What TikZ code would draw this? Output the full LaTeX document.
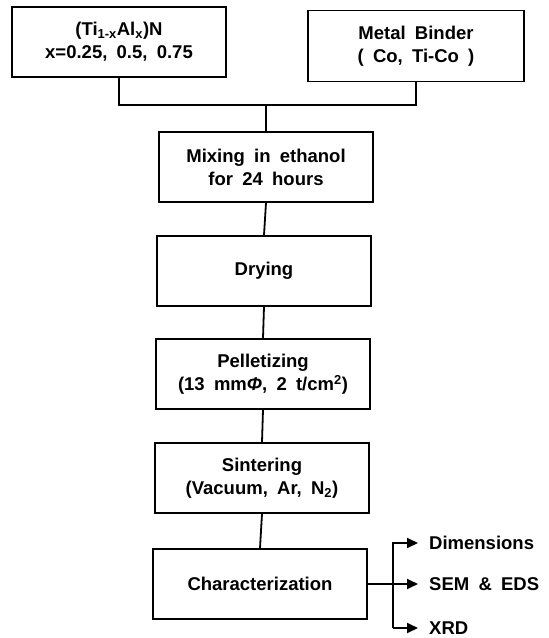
\documentclass[tikz,border=0pt]{standalone}
\usepackage{fontspec}
\setmainfont{Liberation Sans}[WordSpace=1.8]
\usetikzlibrary{arrows.meta}
\newcommand\fs{\fontsize{18.5}{23}\selectfont\bfseries}
\begin{document}
\begin{tikzpicture}[x=1pt,y=-1pt,
  box/.style={draw,line width=1.8pt,minimum width=214pt,minimum height=70pt,align=center,inner sep=0pt,font=\fs},
  conn/.style={line width=1.8pt},
  lab/.style={anchor=west,inner sep=0pt,font=\fs},
  arr/.style={conn,-{Triangle[length=11pt,width=10pt]}}]
\useasboundingbox (0,0) rectangle (549,638);
\node[box] (t1) at (119,42) {(Ti\textsubscript{1-x}Al\textsubscript{x})N\\x=0.25, 0.5, 0.75};
\node[box,minimum width=216pt,minimum height=71pt] (t2) at (416,46) {Metal Binder\\( Co, Ti-Co )};
\node[box] (mix) at (266,167) {Mixing in ethanol\\for 24 hours};
\node[box] (dry) at (264,271) {Drying};
\node[box] (pel) at (263,374) {Pelletizing\\(13 mm{\itshape Φ}, 2 t/cm\textsuperscript{2})};
\node[box] (sin) at (262,478) {Sintering\\(Vacuum, Ar, N\textsubscript{2})};
\node[box] (chr) at (260,584) {Characterization};
\coordinate (j) at (266,105);
\draw[conn] (t1.south) |- (t2.south |- j) -- (t2.south);
\draw[conn] (j) -- (mix.north);
\draw[conn] (mix.south) -- (dry.north);
\draw[conn] (dry.south) -- (pel.north);
\draw[conn] (pel.south) -- (sin.north);
\draw[conn] (sin.south) -- (chr.north);
\coordinate (b) at (393,584);
\coordinate (d1) at (393,543);
\coordinate (d3) at (393,628);
\coordinate (e1) at (418,543);
\coordinate (e2) at (418,584);
\coordinate (e3) at (418,628);
\draw[conn] (chr.east) -- (b);
\draw[arr] (d3) -- (d1) -- (e1);
\draw[arr] (d3) -- (e3);
\draw[arr] (b) -- (e2);
\node[lab] (dim) at ([xshift=11pt]e1) {Dimensions};
\node[lab] (sem) at ([xshift=11pt]e2) {SEM \& EDS};
\node[lab] (xrd) at ([xshift=11pt]e3) {XRD};
\end{tikzpicture}
\end{document}
